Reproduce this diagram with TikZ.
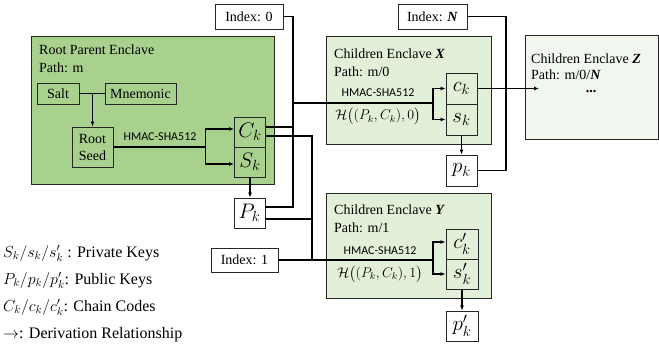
\RequirePackage{fix-cm}
\documentclass[tikz,border=0pt]{standalone}
\usepackage{amsmath,amssymb}
\usepackage{fontspec}
\setmainfont{Liberation Serif}
\newfontfamily\hmac{Carlito}
\usetikzlibrary{arrows.meta}
\definecolor{rootg}{HTML}{A9D18E}
\definecolor{chg}{HTML}{E2F0D9}
\definecolor{farg}{HTML}{F1F7EE}
\colorlet{bord}{black!85}
\tikzstyle{bx}=[draw=bord,line width=0.8pt,inner sep=0pt,font=\fontsize{14}{17}\selectfont]
\tikzstyle{key}=[bx,minimum width=31pt,minimum height=30pt,font=\fontsize{21}{24}\selectfont]
\tikzstyle{encl}=[draw=bord,line width=0.8pt,inner sep=0pt]
\tikzstyle{ttl}=[anchor=north west,align=left,inner sep=0pt,font=\fontsize{14}{18}\selectfont]
\tikzstyle{lbl}=[inner sep=0pt,font=\hmac\fontsize{12}{14}\selectfont]
\tikzstyle{fml}=[inner sep=0pt,font=\fontsize{14}{16}\selectfont]
\tikzstyle{ln}=[line width=1.1pt,draw=black]
\tikzstyle{arr}=[ln,-{Latex[length=5pt,width=4pt]}]
\tikzstyle{leg}=[anchor=base west,inner sep=0pt,font=\fontsize{16}{18}\selectfont]

\begin{document}
\begin{tikzpicture}[x=1pt,y=-1pt]
\useasboundingbox (0,0) rectangle (659,350);
% enclaves
\node[encl,fill=rootg,minimum width=243pt,minimum height=148pt] (root) at (152.5,110) {};
\node[encl,fill=chg,minimum width=165pt,minimum height=108pt] (encX) at (408.5,90) {};
\node[encl,fill=chg,minimum width=165pt,minimum height=105pt] (encY) at (408.5,245.5) {};
\node[encl,fill=farg,minimum width=133pt,minimum height=104pt] (encZ) at (591.5,87) {};
\node[ttl] (rootT) at (39,44.5) {Root Parent Enclave\\Path: m};
\node[ttl] (xT) at (334,49) {Children Enclave \textbf{\textit{X}}\\Path: m/0};
\node[ttl] (yT) at (334,205) {Children Enclave \textbf{\textit{Y}}\\Path: m/1};
\node[ttl,font=\fontsize{14}{16.5}\selectfont] (zT) at (531,53.5) {Children Enclave \textbf{\textit{Z}}\\Path: m/0/\textbf{\textit{N}}};
\node[inner sep=0pt,font=\bfseries\fontsize{14}{16}\selectfont] (dots) at (591,92) {...};

% root enclave
\node[bx,minimum width=42pt,minimum height=21pt] (salt) at (58,93.5) {Salt};
\node[bx,minimum width=71pt,minimum height=21pt] (mnem) at (140.5,93.5) {Mnemonic};
\node[bx,align=center,minimum width=41pt,minimum height=40pt] (seed) at (92.5,147) {Root\\Seed};
\node[lbl] (hR) at (160,136.5) {HMAC-SHA512};
\node[key] (Ck) at (250,132) {$C_k$};
\node[key] (Sk) at (250,162) {$S_k$};
\node[key] (Pk) at (249.5,213) {$P_k$};

% indices
\node[bx,minimum width=68pt,minimum height=25pt] (idx0) at (249,16.5) {Index: 0};
\node[bx,minimum width=69pt,minimum height=25pt] (idxN) at (432.5,16.5) {Index: \textbf{\textit{N}}};
\node[bx,minimum width=67pt,minimum height=24pt] (idx1) at (244.5,260) {Index: 1};

% children X
\node[lbl] (hX) at (378,93) {HMAC-SHA512};
\node[fml] (fX) at (378,116.5) {$\mathcal{H}\big((P_k,C_k),0\big)$};
\node[key,minimum height=31pt] (ck) at (461.5,88.5) {$c_k$};
\node[key,minimum height=31pt] (sk) at (461.5,119.5) {$s_k$};
\node[key,minimum height=31pt] (pk) at (461.5,170.5) {$p_k$};

% children Y
\node[lbl] (hY) at (380,251) {HMAC-SHA512};
\node[fml] (fY) at (380,274) {$\mathcal{H}\big((P_k,C_k),1\big)$};
\node[key,minimum width=32pt] (cpk) at (462,244) {$c'_k$};
\node[key,minimum width=32pt] (spk) at (462,274) {$s'_k$};
\node[key,minimum width=32pt] (ppk) at (462,326) {$p'_k$};

% legend
\node[leg] (l1) at (3,257) {$S_k/s_k/s'_k$ : Private Keys};
\node[leg] (l2) at (3,284) {$P_k/p_k/p'_k$: Public Keys};
\node[leg] (l3) at (3,311) {$C_k/c_k/c'_k$: Chain Codes};
\node[leg] (l4) at (3,338) {$\rightarrow$: Derivation Relationship};

% connectors
\coordinate (jr) at (205.5,147);
\coordinate (a0) at (293,103);
\coordinate (jx) at (433,103);
\coordinate (a1) at (312,260);
\coordinate (jy) at (433,260);
\coordinate (aN) at (506,100);
\coordinate (zin) at (539,88.5);

\draw[ln] (salt) -- (mnem);
\draw[arr] (seed.north |- salt.east) -- (seed.north);
\draw[ln] (seed.east) -- (jr);
\draw[arr] (jr) |- ([yshift=3pt]Ck.west);
\draw[arr] (jr) |- ([yshift=-2pt]Sk.west);
\draw[arr] (Sk.south) -- (Sk.south |- Pk.north);
\draw[ln] (idx0) -| (a0) |- ([yshift=6pt]Pk.east);
\draw[ln] ([yshift=5pt]Ck.east) -- ([yshift=5pt]Ck.east -| a0);
\draw[ln] (a0) -- (jx);
\draw[arr] (jx) |- (ck.west);
\draw[arr] (jx) |- (sk.west);
\draw[arr] (sk.south) -- (pk.north);
\draw[arr] (ck.east) -- (zin);
\draw[ln] (idxN) -| (aN) |- (pk.east);
\draw[ln] ([yshift=-4pt]Ck.east) -| (a1);
\draw[ln] ([yshift=-6pt]Pk.east) -- ([yshift=-6pt]Pk.east -| a1);
\draw[ln] (idx1) -- (jy);
\draw[arr] (jy) |- ([yshift=2pt]cpk.west);
\draw[arr] (jy) |- (spk.west);
\draw[arr] (spk.south) -- (ppk.north);
\end{tikzpicture}
\end{document}
